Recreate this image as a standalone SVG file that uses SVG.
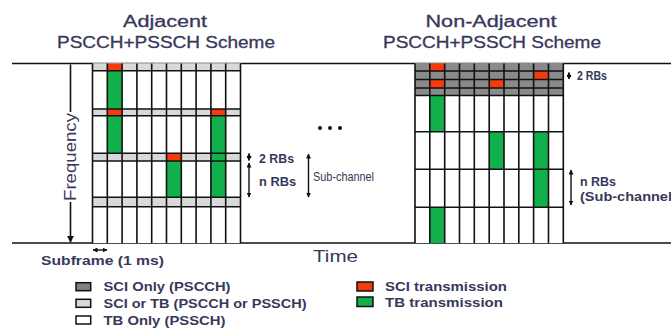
<svg xmlns="http://www.w3.org/2000/svg" width="671" height="328" viewBox="0 0 671 328">
<defs>
<style>
.t{font-family:"Liberation Sans",Arial,sans-serif;fill:#38385a}
.ttl{font-size:16px;stroke:#38385a;stroke-width:0.3}
.lbl{font-size:12px;font-weight:bold}
.leg{font-size:13px;font-weight:bold}
.g{stroke:#111;stroke-width:1.6;fill:none}
.ax{stroke:#111;stroke-width:1.6;fill:none}
.red{fill:#f53a0c}
.grn{fill:#12b04c}
.lg{fill:#d9d9d9}
.dg{fill:#8a8a8a}
.ar{stroke:#111;stroke-width:1.4;fill:none;marker-start:url(#ah);marker-end:url(#ah)}
</style>
<marker id="ah" viewBox="0 0 10 10" refX="9" refY="5" markerWidth="5" markerHeight="5" orient="auto-start-reverse" markerUnits="userSpaceOnUse">
<path d="M0,0 L10,5 L0,10 z" fill="#111"/>
</marker>
<marker id="ahe" viewBox="0 0 10 10" refX="9" refY="5" markerWidth="7" markerHeight="7" orient="auto" markerUnits="userSpaceOnUse">
<path d="M0,0 L10,5 L0,10 z" fill="#111"/>
</marker>
</defs>
<rect width="671" height="328" fill="#fff"/>

<g id="titles">
<text class="t ttl" x="165" y="26.5" text-anchor="middle" textLength="84" lengthAdjust="spacingAndGlyphs">Adjacent</text>
<text class="t ttl" x="166" y="48" text-anchor="middle" textLength="218" lengthAdjust="spacingAndGlyphs">PSCCH+PSSCH Scheme</text>
<text class="t ttl" x="491" y="26.5" text-anchor="middle" textLength="131" lengthAdjust="spacingAndGlyphs">Non-Adjacent</text>
<text class="t ttl" x="492" y="48" text-anchor="middle" textLength="218" lengthAdjust="spacingAndGlyphs">PSCCH+PSSCH Scheme</text>
</g>

<g id="axes">
<line class="ax" x1="12" y1="63.5" x2="671" y2="63.5"/>
<line class="ax" x1="12" y1="243" x2="671" y2="243"/>
<text class="t" font-size="16" transform="translate(75.5,157) rotate(-90)" text-anchor="middle" textLength="88" lengthAdjust="spacingAndGlyphs">Frequency</text>
<text class="t" font-size="17" x="313" y="262" textLength="45" lengthAdjust="spacingAndGlyphs">Time</text>
<text class="t" font-size="13" font-weight="bold" x="41" y="265" textLength="123" lengthAdjust="spacingAndGlyphs">Subframe (1 ms)</text>
<circle cx="320" cy="128" r="2" fill="#111"/>
<circle cx="330" cy="128" r="2" fill="#111"/>
<circle cx="340" cy="128" r="2" fill="#111"/>
</g>

<g id="adjacent-grid">
<rect x="92.5" y="63.5" width="148" height="179.5" fill="#fff"/>
<rect class="lg" x="92.5" y="63.5" width="148" height="7.2"/>
<rect class="lg" x="92.5" y="109" width="148" height="6.7"/>
<rect class="lg" x="92.5" y="153.3" width="148" height="7.7"/>
<rect class="lg" x="92.5" y="197.3" width="148" height="9.4"/>
<rect class="grn" x="107.3" y="70.7" width="14.8" height="82.6"/>
<rect class="grn" x="210.9" y="115.7" width="14.8" height="81.6"/>
<rect class="grn" x="166.5" y="161" width="14.8" height="36.3"/>
<rect class="red" x="107.3" y="63.5" width="14.8" height="7.2"/>
<rect class="red" x="107.3" y="109" width="14.8" height="6.7"/>
<rect class="red" x="210.9" y="109" width="14.8" height="6.7"/>
<rect class="red" x="166.5" y="153.3" width="14.8" height="7.7"/>
<path class="g" d="M92.5,63.5V243M107.3,63.5V243M122.1,63.5V243M136.9,63.5V243M151.7,63.5V243M166.5,63.5V243M181.3,63.5V243M196.1,63.5V243M210.9,63.5V243M225.7,63.5V243M240.5,63.5V243"/>
<path class="g" d="M92.5,70.7H240.5M92.5,109H240.5M92.5,115.7H240.5M92.5,153.3H240.5M92.5,161H240.5M92.5,197.3H240.5M92.5,206.7H240.5"/>
</g>

<g id="non-adjacent-grid">
<rect x="415" y="63.5" width="148.3" height="179.5" fill="#fff"/>
<rect class="dg" x="415" y="63.5" width="148.3" height="32"/>
<rect class="grn" x="429.8" y="95.5" width="14.9" height="36.2"/>
<rect class="grn" x="489.2" y="131.7" width="14.8" height="37.6"/>
<rect class="grn" x="533.6" y="131.7" width="14.9" height="75.6"/>
<rect class="grn" x="429.8" y="207.3" width="14.9" height="35.7"/>
<rect class="red" x="429.8" y="63.5" width="14.9" height="7.5"/>
<rect class="red" x="533.6" y="71" width="14.9" height="8.5"/>
<rect class="red" x="429.8" y="79.5" width="14.9" height="8.5"/>
<rect class="red" x="489.2" y="79.5" width="14.8" height="8.5"/>
<path class="g" d="M415,63.5V243M429.8,63.5V243M444.7,63.5V243M459.5,63.5V243M474.3,63.5V243M489.2,63.5V243M504,63.5V243M518.8,63.5V243M533.6,63.5V243M548.5,63.5V243M563.3,63.5V243"/>
<path class="g" d="M415,71H563.3M415,79.5H563.3M415,88H563.3M415,95.5H563.3M415,131.7H563.3M415,169.3H563.3M415,207.3H563.3"/>
</g>

<g id="connectors">
<line x1="70.5" y1="64.5" x2="70.5" y2="112" class="ax"/>
<line x1="70.5" y1="202" x2="70.5" y2="242" class="ax" marker-end="url(#ahe)"/>
<line class="ar" x1="249" y1="153.5" x2="249" y2="160.5"/>
<line class="ar" x1="249" y1="163" x2="249" y2="197"/>
<line class="ar" x1="308.5" y1="154" x2="308.5" y2="197"/>
<line class="ar" x1="569" y1="72.5" x2="569" y2="79"/>
<line class="ar" x1="571" y1="170" x2="571" y2="205"/>
<line class="ar" x1="93" y1="250" x2="107" y2="250"/>
</g>

<g id="annotations">
<text class="t lbl" x="259" y="162.5" textLength="35" lengthAdjust="spacingAndGlyphs">2 RBs</text>
<text class="t lbl" x="259" y="185.5" textLength="37" lengthAdjust="spacingAndGlyphs">n RBs</text>
<text class="t" font-size="13" x="313" y="181" textLength="61" lengthAdjust="spacingAndGlyphs">Sub-channel</text>
<text class="t lbl" x="577" y="79.5" textLength="30" lengthAdjust="spacingAndGlyphs">2 RBs</text>
<text class="t lbl" x="580" y="186" textLength="36" lengthAdjust="spacingAndGlyphs">n RBs</text>
<text class="t lbl" x="580" y="200.5" textLength="92" lengthAdjust="spacingAndGlyphs">(Sub-channel</text>
</g>

<g id="legend">
<rect x="76" y="282.7" width="14.7" height="8" fill="#808080" stroke="#111" stroke-width="1.5"/>
<rect x="76" y="299.3" width="14.7" height="8" fill="#d9d9d9" stroke="#111" stroke-width="1.5"/>
<rect x="76" y="316" width="14.7" height="8" fill="#fff" stroke="#111" stroke-width="1.5"/>
<text class="t leg" x="103.5" y="291" textLength="127" lengthAdjust="spacingAndGlyphs">SCI Only (PSCCH)</text>
<text class="t leg" x="103.5" y="308" textLength="203" lengthAdjust="spacingAndGlyphs">SCI or TB (PSCCH or PSSCH)</text>
<text class="t leg" x="103.5" y="324.5" textLength="122" lengthAdjust="spacingAndGlyphs">TB Only (PSSCH)</text>
<rect x="357" y="282" width="16" height="9" class="red" stroke="#111" stroke-width="1.5"/>
<rect x="357" y="297" width="16" height="9.5" class="grn" stroke="#111" stroke-width="1.5"/>
<text class="t leg" x="385" y="290.5" textLength="122" lengthAdjust="spacingAndGlyphs">SCI transmission</text>
<text class="t leg" x="385" y="307" textLength="118" lengthAdjust="spacingAndGlyphs">TB transmission</text>
</g>
</svg>
